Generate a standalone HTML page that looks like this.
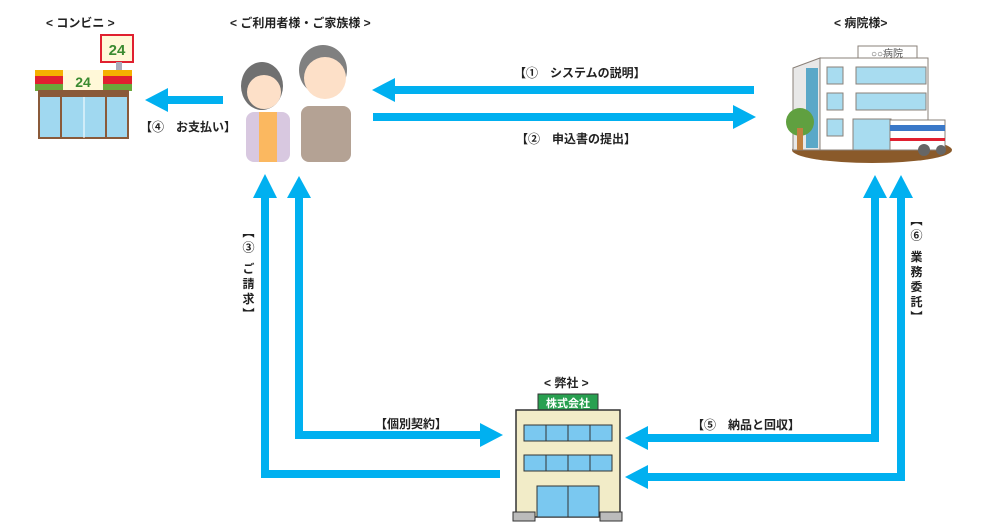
<!DOCTYPE html>
<html><head><meta charset="utf-8"><style>
html,body{margin:0;padding:0;background:#fff;}
body{width:1002px;height:530px;position:relative;overflow:hidden;font-family:"Liberation Sans","Noto Sans CJK JP",sans-serif;}
.t{position:absolute;font-size:12px;color:#222;white-space:nowrap;font-weight:bold;}
.v{position:absolute;font-size:12px;color:#222;font-weight:bold;writing-mode:vertical-rl;letter-spacing:3px;}
</style></head><body>
<svg width="1002" height="530" style="position:absolute;left:0;top:0">
<g fill="#00b0f0">
<!-- arrow 1 -->
<rect x="392" y="86" width="362" height="8"/><polygon points="372,90 395,78 395,102"/>
<!-- arrow 2 -->
<rect x="373" y="113" width="362" height="8"/><polygon points="756,117 733,105 733,129"/>
<!-- arrow 4 -->
<rect x="165" y="96" width="58" height="8"/><polygon points="145,100 168,88 168,112"/>
<!-- left verticals -->
<rect x="261" y="196" width="8" height="282"/><rect x="261" y="470" width="239" height="8"/><polygon points="265,174 253,198 277,198"/>
<rect x="295" y="196" width="8" height="243"/><rect x="295" y="431" width="186" height="8"/><polygon points="299,176 287,198 311,198"/><polygon points="503,435 480,423 480,447"/>
<!-- right verticals -->
<rect x="871" y="196" width="8" height="246"/><rect x="646" y="434" width="233" height="8"/><polygon points="875,175 863,198 887,198"/><polygon points="625,438 648,426 648,450"/>
<rect x="897" y="196" width="8" height="285"/><rect x="646" y="473" width="259" height="8"/><polygon points="901,175 889,198 913,198"/><polygon points="625,477 648,465 648,489"/>
</g>
<!-- convenience store -->
<rect x="101" y="35" width="32" height="27" fill="#fff8d8" stroke="#e02030" stroke-width="2"/>
<text x="117" y="55" font-size="15" font-weight="bold" fill="#3a8a30" text-anchor="middle" font-family="Liberation Sans">24</text>
<rect x="116" y="62" width="6" height="9" fill="#aab"/>
<rect x="35" y="70" width="97" height="6" fill="#f5b000"/>
<rect x="35" y="76" width="97" height="8" fill="#e02030"/>
<rect x="35" y="84" width="97" height="7" fill="#6aa83a"/>
<rect x="63" y="70" width="40" height="21" fill="#fff8d8"/>
<text x="83" y="87" font-size="14" font-weight="bold" fill="#3a8a30" text-anchor="middle" font-family="Liberation Sans">24</text>
<rect x="39" y="91" width="89" height="47" fill="#a0d8f0" stroke="#8a5a3a" stroke-width="2"/>
<rect x="39" y="91" width="89" height="6" fill="#8a5a3a"/>
<line x1="61" y1="97" x2="61" y2="138" stroke="#8a5a3a" stroke-width="2"/>
<line x1="106" y1="97" x2="106" y2="138" stroke="#8a5a3a" stroke-width="2"/>
<line x1="84" y1="97" x2="84" y2="138" stroke="#fff" stroke-width="1"/>
<!-- people -->
<rect x="246" y="112" width="44" height="50" rx="8" fill="#d8c8e0"/>
<rect x="259" y="112" width="18" height="50" fill="#fbb860"/>
<ellipse cx="262" cy="86" rx="21" ry="24" fill="#707070"/>
<ellipse cx="264" cy="92" rx="17" ry="17" fill="#fde0c8"/>
<rect x="301" y="106" width="50" height="56" rx="8" fill="#b4a294"/>
<ellipse cx="323" cy="70" rx="24" ry="25" fill="#808080"/>
<ellipse cx="325" cy="78" rx="21" ry="21" fill="#fde0c8"/>
<!-- hospital -->
<ellipse cx="872" cy="150" rx="80" ry="13" fill="#8a5a2a"/>
<polygon points="793,68 820,58 820,150 793,150" fill="#e8e8e8" stroke="#8a8078" stroke-width="1"/>
<rect x="806" y="68" width="12" height="80" fill="#5aa8c8"/>
<rect x="858" y="46" width="59" height="14" fill="#fff" stroke="#8a8078"/>
<text x="887" y="57" font-size="10" fill="#555" text-anchor="middle">○○病院</text>
<rect x="820" y="58" width="108" height="92" fill="#fff" stroke="#8a8078"/>
<g fill="#a8dcf0" stroke="#8a8078" stroke-width="1">
<rect x="827" y="67" width="16" height="17"/><rect x="856" y="67" width="70" height="17"/>
<rect x="827" y="93" width="16" height="17"/><rect x="856" y="93" width="70" height="17"/>
<rect x="827" y="119" width="16" height="17"/><rect x="853" y="119" width="38" height="31"/>
</g>
<rect x="890" y="120" width="55" height="30" fill="#fff" stroke="#8a8078"/>
<rect x="890" y="125" width="55" height="6" fill="#3a78c8"/>
<rect x="890" y="138" width="55" height="3" fill="#e02030"/>
<circle cx="924" cy="150" r="6" fill="#666"/><circle cx="941" cy="150" r="5" fill="#666"/>
<circle cx="800" cy="122" r="14" fill="#60a040"/><rect x="797" y="128" width="6" height="22" fill="#c08040"/>
<!-- company -->
<rect x="538" y="394" width="60" height="16" fill="#28a050" stroke="#333"/>
<text x="568" y="407" font-size="11" font-weight="bold" fill="#fff" text-anchor="middle">株式会社</text>
<rect x="516" y="410" width="104" height="107" fill="#f2ecc8" stroke="#333" stroke-width="1.5"/>
<g fill="#7ac8f0" stroke="#333" stroke-width="1">
<rect x="524" y="425" width="88" height="16"/><rect x="524" y="455" width="88" height="16"/>
<rect x="537" y="486" width="62" height="31"/>
</g>
<g stroke="#333"><line x1="546" y1="425" x2="546" y2="441"/><line x1="568" y1="425" x2="568" y2="441"/><line x1="590" y1="425" x2="590" y2="441"/>
<line x1="546" y1="455" x2="546" y2="471"/><line x1="568" y1="455" x2="568" y2="471"/><line x1="590" y1="455" x2="590" y2="471"/>
<line x1="568" y1="486" x2="568" y2="517"/></g>
<rect x="513" y="512" width="22" height="9" fill="#bbb" stroke="#333"/><rect x="600" y="512" width="22" height="9" fill="#bbb" stroke="#333"/>
</svg>
<div class="t" style="left:46px;top:14px;">&lt; コンビニ &gt;</div>
<div class="t" style="left:230px;top:14px;">&lt; ご利用者様・ご家族様 &gt;</div>
<div class="t" style="left:834px;top:14px;">&lt; 病院様&gt;</div>
<div class="t" style="left:544px;top:374px;">&lt; 弊社 &gt;</div>
<div class="t" style="left:514px;top:64px;">【①　システムの説明】</div>
<div class="t" style="left:516px;top:130px;">【②　申込書の提出】</div>
<div class="t" style="left:140px;top:118px;">【④　お支払い】</div>
<div class="t" style="left:375px;top:415px;">【個別契約】</div>
<div class="t" style="left:692px;top:416px;">【⑤　納品と回収】</div>
<div class="v" style="left:240px;top:226px;">【③ ご請求】</div>
<div class="v" style="left:908px;top:214px;">【⑥ 業務委託】</div>
</body></html>
